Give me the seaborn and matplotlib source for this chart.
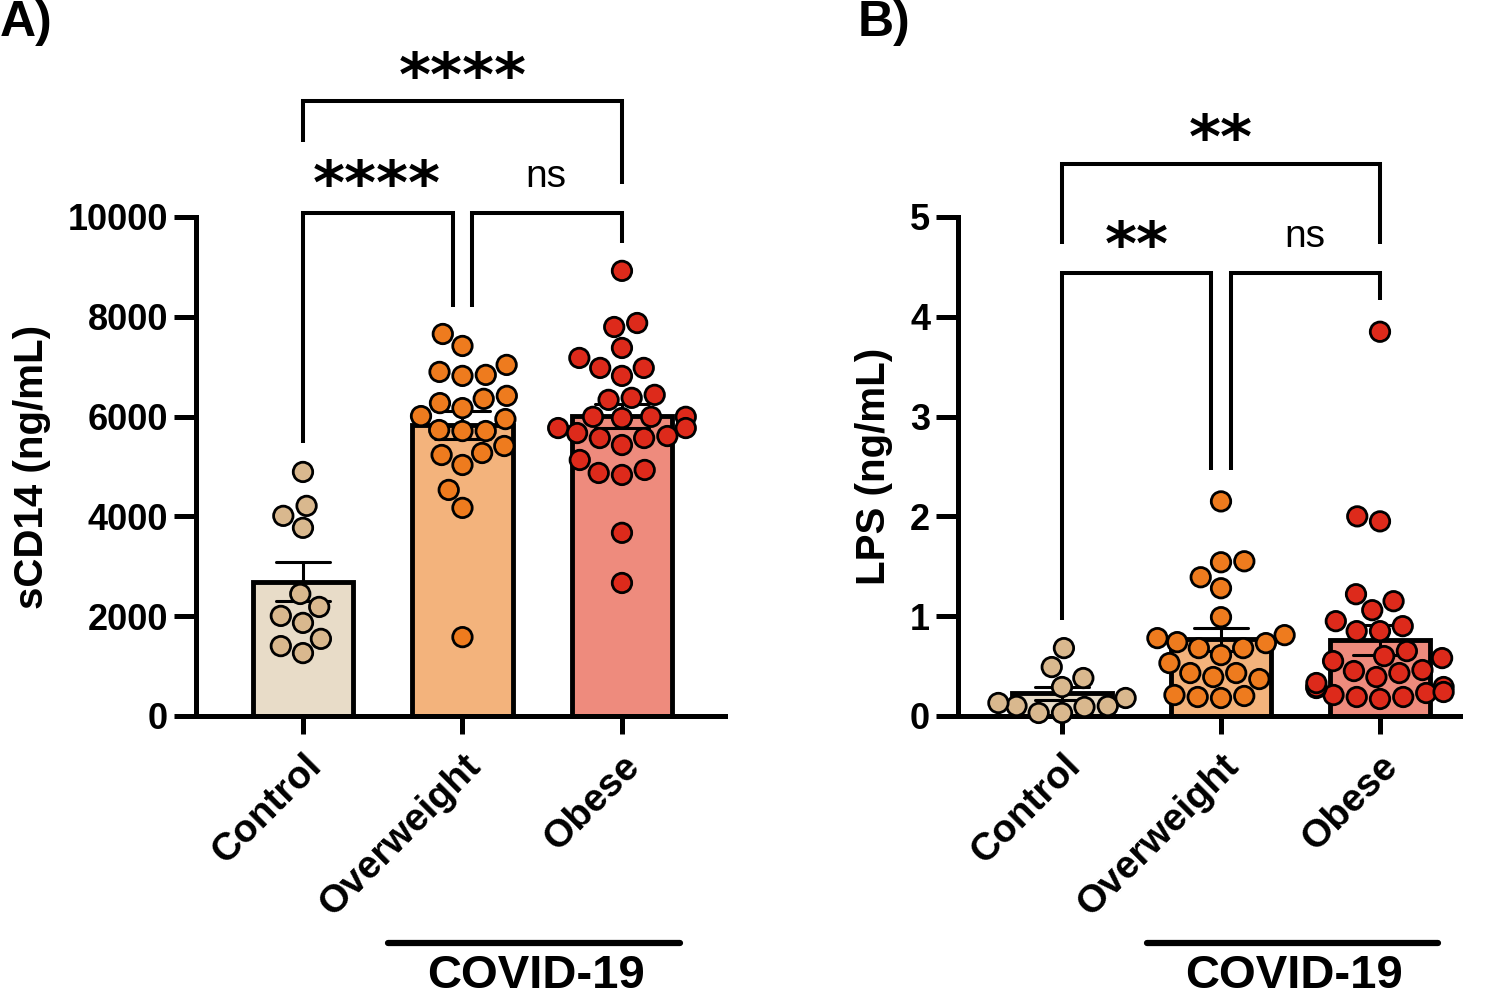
import numpy as np
import pandas as pd
import seaborn as sns
import matplotlib.pyplot as plt
from matplotlib.transforms import blended_transform_factory, ScaledTranslation

# 数据
groups = ['Control', 'Overweight', 'Obese']

scd14_control = [4890, 4210, 4010, 3770, 2445, 2185, 2005, 1865, 1545, 1400, 1260]
scd14_overweight = [7655, 7415, 6815, 6835, 7035, 6895, 6270, 6170, 6415, 6355, 5950,
                    6010, 5730, 5710, 5710, 5410, 5230, 5270, 5030, 4530, 4170, 1580]
scd14_obese = [8920, 7875, 7795, 7375, 7175, 6975, 6975, 6815, 6435, 6375, 6335, 5970,
               5995, 5995, 5995, 5770, 5770, 5670, 5570, 5570, 5610, 5430, 5130, 4870,
               4830, 4930, 3670, 2665]

lps_control = [0.68, 0.49, 0.38, 0.29, 0.18, 0.09, 0.10, 0.13, 0.03, 0.10, 0.03]
lps_overweight = [2.15, 1.55, 1.54, 1.39, 1.28, 0.99, 0.78, 0.81, 0.74, 0.73, 0.68,
                  0.68, 0.61, 0.53, 0.43, 0.39, 0.37, 0.43, 0.19, 0.20, 0.18, 0.21]
lps_obese = [3.85, 2.00, 1.95, 1.22, 1.15, 1.06, 0.95, 0.85, 0.85, 0.90, 0.65, 0.55,
             0.58, 0.60, 0.46, 0.45, 0.39, 0.21, 0.28, 0.29, 0.29, 0.17, 0.23, 0.19,
             0.19, 0.33, 0.24, 0.43]

bar_colors = ['#E8DCC8', '#F3B37C', '#EE8B7D']
point_colors = ['#D9B88E', '#EE7B1E', '#DD2A1B']

sns.set_theme(style='ticks')
plt.rcParams['font.family'] = ['Liberation Sans', 'DejaVu Sans']
plt.rcParams['font.weight'] = 'bold'
plt.rcParams['axes.labelweight'] = 'bold'
for k in ['text.color', 'axes.labelcolor', 'xtick.color', 'ytick.color', 'axes.edgecolor']:
    plt.rcParams[k] = 'black'


def make_df(vals):
    return pd.DataFrame({'group': np.repeat(groups, [len(v) for v in vals]),
                         'value': np.concatenate(vals)})


def bracket(ax, x1, x2, y, y1, y2):
    ax.plot([x1, x1, x2, x2], [y1, y, y, y2], color='black', lw=2.9,
            clip_on=False, solid_joinstyle='miter', solid_capstyle='butt', zorder=5)


def stars(ax, x, y, s):
    ax.text(x, y, s, ha='center', va='center', fontsize=44, fontweight='bold',
            family='DejaVu Sans', clip_on=False)


def ns(ax, x, y):
    ax.text(x, y, 'ns', ha='center', va='center', fontsize=28, fontweight='normal',
            clip_on=False)


def draw_panel(ax, df, ymax, ticks, ylabel, xlim):
    sns.barplot(data=df, x='group', y='value', hue='group', order=groups,
                palette=bar_colors, saturation=1, errorbar='se', capsize=0.34,
                err_kws={'color': 'black', 'linewidth': 2.2},
                edgecolor='black', linewidth=3.5, width=0.63, legend=False,
                ax=ax, zorder=1)
    sns.swarmplot(data=df, x='group', y='value', hue='group', order=groups,
                  palette=point_colors, size=14, edgecolor='black', linewidth=2,
                  legend=False, ax=ax, zorder=4, clip_on=False)
    ax.set_ylim(0, ymax)
    ax.set_xlim(*xlim)
    ax.set_yticks(ticks)
    ax.set_yticklabels([str(t) for t in ticks], fontsize=26, fontweight='bold')
    ax.set_xticks(range(3))
    ax.set_xticklabels(groups, rotation=45, ha='right', rotation_mode='anchor',
                       fontsize=28, fontweight='bold')
    shift = ScaledTranslation(-10 / 100, 0, ax.figure.dpi_scale_trans)
    for lab in ax.get_xticklabels():
        lab.set_transform(lab.get_transform() + shift)
    ax.set_xlabel('')
    ax.set_ylabel(ylabel, fontsize=29, fontweight='bold', labelpad=12)
    sns.despine(ax=ax)
    for sp in ['left', 'bottom']:
        ax.spines[sp].set_linewidth(3.6)
    ax.tick_params(axis='y', length=16, width=3.6, pad=4)
    ax.tick_params(axis='x', length=13, width=3.6, pad=10)

    tr = blended_transform_factory(ax.transData, ax.transAxes)
    ax.plot([0.533, 2.364], [-0.455, -0.455], color='black', lw=4.5,
            solid_capstyle='round', transform=tr, clip_on=False)
    ax.text(1.46, -0.521, 'COVID-19', transform=tr, ha='center', va='center',
            fontsize=34, fontweight='bold')


fig = plt.figure(figsize=(14.89, 10.05), dpi=100)
axA = fig.add_axes([0.1316, 0.2876, 0.3553, 0.4965])
axB = fig.add_axes([0.6434, 0.2876, 0.3371, 0.4965])

draw_panel(axA, make_df([scd14_control, scd14_overweight, scd14_obese]),
           10000, [0, 2000, 4000, 6000, 8000, 10000], 'sCD14 (ng/mL)', (-0.671, 2.646))
draw_panel(axB, make_df([lps_control, lps_overweight, lps_obese]),
           5, [0, 1, 2, 3, 4, 5], 'LPS (ng/mL)', (-0.654, 2.503))

# 显著性标注 A
bracket(axA, 0, 2, 12325, 11500, 10660)
stars(axA, 1, 12750, '****')
bracket(axA, 0, 0.94, 10080, 5470, 8200)
stars(axA, 0.46, 10590, '****')
bracket(axA, 1.06, 2, 10080, 8200, 9480)
ns(axA, 1.52, 10800)

# 显著性标注 B
bracket(axB, 0, 2, 5.53, 4.73, 4.73)
stars(axB, 1, 5.76, '**')
bracket(axB, 0, 0.937, 4.44, 0.96, 2.46)
stars(axB, 0.47, 4.68, '**')
bracket(axB, 1.063, 2, 4.44, 2.46, 4.17)
ns(axB, 1.53, 4.8)

fig.text(0.0, 1.0, 'A)', ha='left', va='top', fontsize=36, fontweight='bold')
fig.text(0.576, 1.0, 'B)', ha='left', va='top', fontsize=36, fontweight='bold')

fig.savefig('out.png', dpi=100, facecolor='white')
